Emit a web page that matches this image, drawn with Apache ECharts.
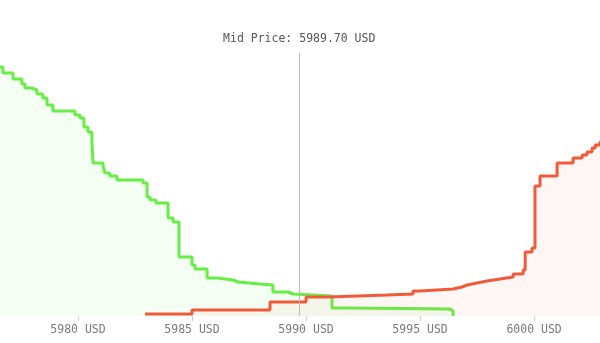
<!DOCTYPE html>
<html>
<head>
<meta charset="utf-8">
<script src="https://cdn.jsdelivr.net/npm/echarts@6/dist/echarts.min.js"></script>
<style>
html,body{margin:0;padding:0;background:#fff;}
#chart{width:600px;height:343px;}
</style>
</head>
<body>
<div id="chart"></div>
<script>
// Mid price
const midPrice = 5989.70;
const tickUnit = 'USD';
const tickValues = [5980, 5985, 5990, 5995, 6000];
const priceMin = 5976.58;
const priceMax = 6002.89;

// Bids (cumulative depth), price ascending
const bidPrices = [5976.36, 5976.71, 5977.15, 5977.54, 5977.68, 5977.98, 5978.20, 5978.46, 5978.64, 5978.90,
  5979.87, 5980.09, 5980.26, 5980.44, 5980.61, 5980.66, 5981.10, 5981.18, 5981.40, 5981.71,
  5982.85, 5983.03, 5983.16, 5983.42, 5983.95, 5984.17, 5984.43, 5985.00, 5985.13, 5985.66,
  5986.10, 5986.80, 5987.02, 5987.98, 5988.55, 5989.21, 5989.43, 5991.14, 5991.93, 5996.32, 5996.45];
const bidDepth = [249, 243, 237, 232, 228, 226, 222, 218, 211, 205,
  201, 198, 189, 184, 175, 153, 150, 143, 140, 136,
  133, 119, 116, 113, 98, 94, 59, 51, 47, 38,
  36, 34, 32, 31, 24, 22, 20, 8, 7, 5, 0];

// Asks (cumulative depth), price ascending
const askPrices = [5982.94, 5985.00, 5988.42, 5990.00, 5990.96, 5993.55, 5994.69, 5995.00, 5996.45, 5996.84,
  5997.06, 5997.50, 5997.94, 5998.51, 5999.08, 5999.52, 5999.61, 5999.91, 6000.04, 6000.26,
  6001.01, 6001.71, 6002.11, 6002.32, 6002.54, 6002.68, 6002.89, 6003.16];
const askDepth = [2, 6, 14, 19, 21, 22, 25, 27, 29, 31,
  33, 35, 37, 39, 42, 46, 64, 68, 130, 140,
  153, 158, 161, 164, 168, 171, 174, 176];

const bidData = bidPrices.map((p, i) => [p, bidDepth[i]]);
const askData = askPrices.map((p, i) => [p, askDepth[i]]);

const chart = echarts.init(document.getElementById('chart'), null, {renderer: 'canvas'});
const mono = '"DejaVu Sans Mono", "Liberation Mono", monospace';
chart.setOption({
  animation: false,
  backgroundColor: '#ffffff',
  grid: {left: 0, right: 0, top: 53, bottom: 27},
  xAxis: {
    type: 'value',
    min: priceMin, max: priceMax,
    splitLine: {show: false},
    axisLine: {show: false},
    axisTick: {show: true, length: 5, lineStyle: {color: '#cccccc'}, customValues: tickValues},
    axisLabel: {
      customValues: tickValues,
      formatter: v => v + ' ' + tickUnit,
      color: '#7a7a7a', fontFamily: mono, fontSize: 11.5, margin: 8
    }
  },
  yAxis: {type: 'value', min: 0, max: 263, show: false},
  series: [
    {
      type: 'line', step: 'end', data: bidData, symbol: 'none',
      lineStyle: {color: '#66ee44', width: 3},
      areaStyle: {color: 'rgba(110,240,80,0.10)'},
      z: 3,
      markLine: {
        silent: true, symbol: 'none',
        lineStyle: {color: '#bbbbbb', width: 1, type: 'solid'},
        label: {
          show: true, position: 'end', distance: 8,
          formatter: 'Mid Price: ' + midPrice.toFixed(2) + ' ' + tickUnit,
          color: '#555555', fontFamily: mono, fontSize: 11.5
        },
        data: [{xAxis: midPrice}]
      }
    },
    {
      type: 'line', step: 'end', data: askData, symbol: 'none',
      lineStyle: {color: '#f05a3a', width: 3},
      areaStyle: {color: 'rgba(245,110,90,0.09)'},
      z: 4
    }
  ]
});
</script>
</body>
</html>
